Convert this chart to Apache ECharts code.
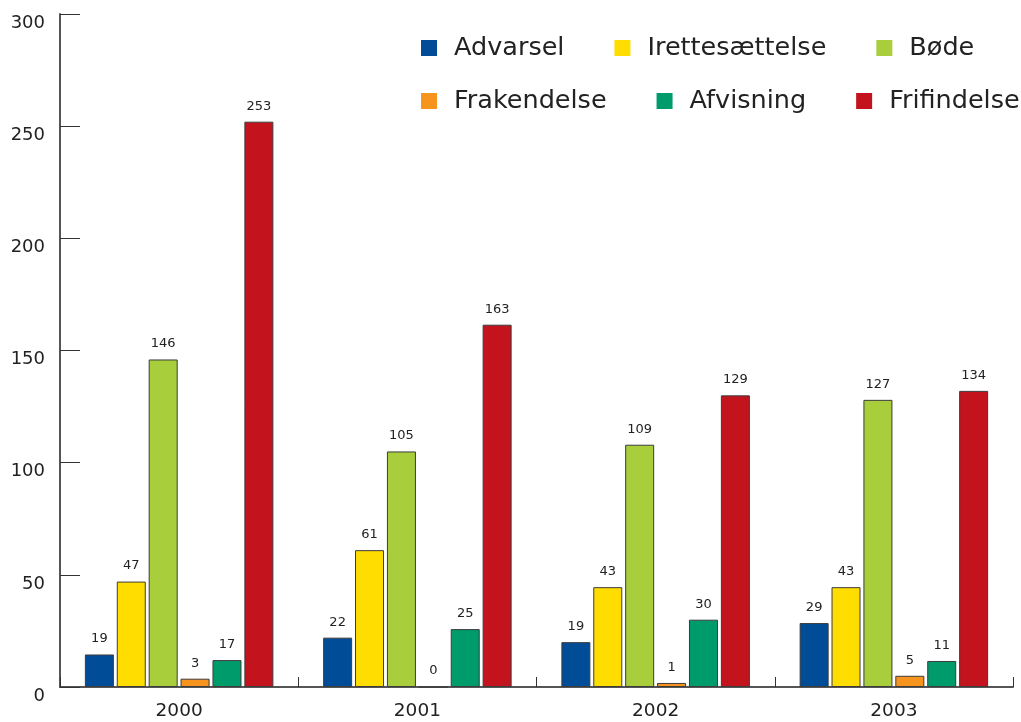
<!DOCTYPE html>
<html>
<head>
<meta charset="utf-8">
<script src="https://cdn.jsdelivr.net/npm/echarts@6/dist/echarts.min.js"></script>
<style>html,body{margin:0;padding:0;background:#fff}#c{width:1021px;height:722px}</style>
</head>
<body>
<div id="c"></div>
<script>
var years = ['2000', '2001', '2002', '2003'];
var seriesNames = ['Advarsel', 'Irettesættelse', 'Bøde', 'Frakendelse', 'Afvisning', 'Frifindelse'];
var colors = ['#004C97', '#FFDD00', '#A8CE3B', '#F7941E', '#009B6B', '#C3141D'];
// bar heights as drawn
var advarsel = [14.5, 22, 20, 28.5];
var irettesaettelse = [47, 61, 44.5, 44.5];
var bode = [146, 105, 108, 128];
var frakendelse = [3.7, 0, 1.8, 5];
var afvisning = [12, 25.8, 30, 11.6];
var frifindelse = [252, 161.5, 130, 132];
// printed value labels
var advarselLbl = [19, 22, 19, 29];
var irettesaettelseLbl = [47, 61, 43, 43];
var bodeLbl = [146, 105, 109, 127];
var frakendelseLbl = [3, 0, 1, 5];
var afvisningLbl = [17, 25, 30, 11];
var frifindelseLbl = [253, 163, 129, 134];
var yTicks = [0, 50, 100, 150, 200, 250, 300];

var values = [advarsel, irettesaettelse, bode, frakendelse, afvisning, frifindelse];
var labels = [advarselLbl, irettesaettelseLbl, bodeLbl, frakendelseLbl, afvisningLbl, frifindelseLbl];

var chart = echarts.init(document.getElementById('c'), null, {renderer: 'canvas'});
var legendCommon = {
  left: 421, padding: 0, itemWidth: 16, itemHeight: 16, itemGap: 50, icon: 'rect',
  itemStyle: {borderWidth: 0},
  textStyle: {fontFamily: 'DejaVu Sans', fontSize: 25.5, color: '#222', padding: [0, 0, 0, 12]}
};
var series = seriesNames.map(function (n, i) {
  return {
    name: n, type: 'bar', data: values[i],
    barWidth: 29, barGap: '10%',
    itemStyle: {color: colors[i], borderColor: '#3c3c3c', borderWidth: 1},
    label: {
      show: true, position: 'top', distance: 9,
      fontFamily: 'DejaVu Sans', fontSize: 13, color: '#222',
      formatter: function (p) { return labels[i][p.dataIndex]; }
    }
  };
});
chart.setOption({
  animation: false,
  color: colors,
  grid: {left: 60, right: 8, top: 14, bottom: 35},
  legend: [
    Object.assign({top: 35, data: seriesNames.slice(0, 3)}, legendCommon),
    Object.assign({top: 88, data: seriesNames.slice(3)}, legendCommon)
  ],
  xAxis: {
    type: 'category', data: years,
    axisLine: {lineStyle: {color: '#555', width: 2}},
    axisTick: {show: true, inside: true, length: 10, interval: 0, lineStyle: {color: '#333', width: 1}},
    axisLabel: {fontFamily: 'DejaVu Sans', fontSize: 18.5, color: '#222', margin: 15}
  },
  yAxis: {
    type: 'value', min: yTicks[0], max: yTicks[yTicks.length - 1], interval: 50,
    splitLine: {show: false},
    axisLine: {show: true, lineStyle: {color: '#555', width: 2}},
    axisTick: {show: true, inside: true, length: 20, lineStyle: {color: '#333', width: 1}},
    axisLabel: {fontFamily: 'DejaVu Sans', fontSize: 18, color: '#222', margin: 15, verticalAlign: 'top'}
  },
  series: series
});
</script>
</body>
</html>
